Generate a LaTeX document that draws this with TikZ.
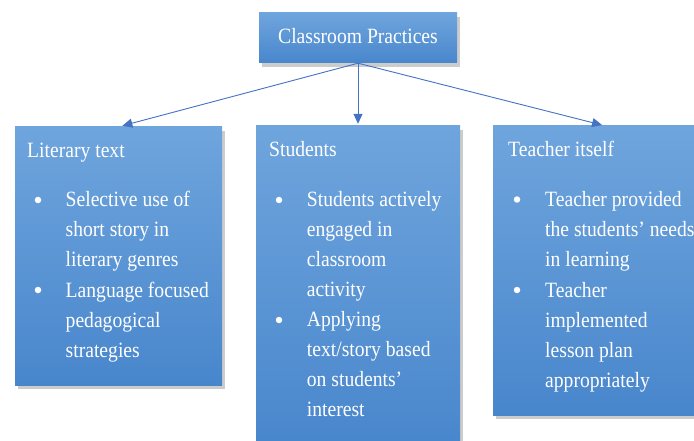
\documentclass[tikz,border=0pt]{standalone}
\usepackage{fontspec}
\setmainfont{Liberation Serif}[FakeStretch=0.9]
\usetikzlibrary{arrows.meta,shadows}
\definecolor{boxtop}{HTML}{6FA5DD}
\definecolor{boxbot}{HTML}{4886CC}
\definecolor{arrowblue}{HTML}{4472C4}
\newcommand\bltxt[1]{\begin{tabular}[t]{@{}l@{}}#1\end{tabular}}
\begin{document}
\begin{tikzpicture}[x=1pt,y=-1pt,
 card/.style={rectangle, draw=none, top color=boxtop, bottom color=boxbot,
   drop shadow={opacity=0.4, shadow xshift=2.5pt, shadow yshift=-4pt}, inner sep=0},
 txt/.style={anchor=base west, inner sep=0, text=white, font=\fontsize{21.8}{30}\selectfont},
 dot/.style={circle, fill=white, draw=none, inner sep=0, minimum size=6.5pt},
 link/.style={draw=arrowblue, line width=0.9pt, -{Triangle[length=10pt,width=9pt]}}]
\useasboundingbox (0,0) rectangle (694,441);
\fill[white] (0,0) rectangle (694,441);
\clip (0,0) rectangle (694,441);
% boxes
\node[card, minimum width=198pt, minimum height=50pt] (top) at (358,38) {};
\node[card, minimum width=207pt, minimum height=258pt] (left) at (118.5,256) {};
\node[card, minimum width=204pt, minimum height=322pt] (mid) at (358,287) {};
\node[card, minimum width=224pt, minimum height=289pt] (right) at (605,270.5) {};
% top text
\node[txt, anchor=base] (toptxt) at (358,43.5) {Classroom Practices};
% left
\node[txt] (lt) at (27,157.7) {Literary text};
\node[dot] (lb1) at (38,200) {};
\node[txt] (lt1) at (65.5,207) {\bltxt{Selective use of\\ short story in\\ literary genres}};
\node[dot] (lb2) at (38,290) {};
\node[txt] (lt2) at (65.5,297) {\bltxt{Language focused\\ pedagogical\\ strategies}};
% middle
\node[txt] (mt) at (269,156.7) {Students};
\node[dot] (mb1) at (279,200) {};
\node[txt] (mt1) at (306.7,206.7) {\bltxt{Students actively\\ engaged in\\ classroom\\ activity}};
\node[dot] (mb2) at (279,320) {};
\node[txt] (mt2) at (306.7,326.7) {\bltxt{Applying\\ text/story based\\ on students’\\ interest}};
% right
\node[txt] (rt) at (508,156.7) {Teacher itself};
\node[dot] (rb1) at (517,199.5) {};
\node[txt] (rt1) at (545,206.7) {\bltxt{Teacher provided\\ the students’ needs\\ in learning}};
\node[dot] (rb2) at (517,290) {};
\node[txt] (rt2) at (545,297) {\bltxt{Teacher\\ implemented\\ lesson plan\\ appropriately}};
% connectors
\draw[link, shorten >=4pt] (top.south) -- (left.north);
\draw[link, shorten >=2pt] (top.south) -- (mid.north);
\draw[link, shorten >=3pt] (top.south) -- (right.north);
\end{tikzpicture}
\end{document}
